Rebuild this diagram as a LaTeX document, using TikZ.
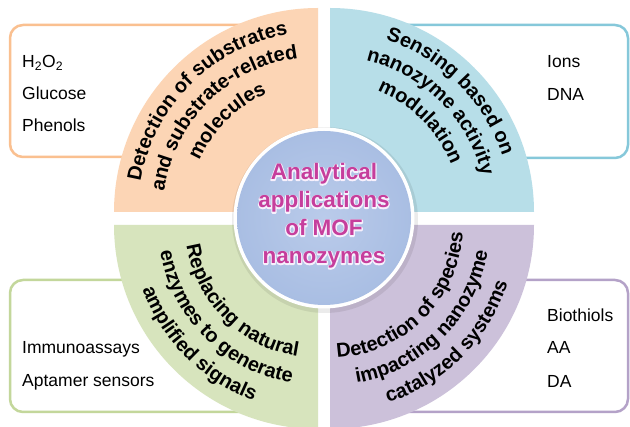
\documentclass[tikz,border=0pt]{standalone}
\usepackage{fontspec}
\setmainfont{Liberation Sans}
\usetikzlibrary{decorations.text}
\definecolor{orfill}{HTML}{FCD5B5}
\definecolor{bufill}{HTML}{B7DEE8}
\definecolor{grfill}{HTML}{D7E4BD}
\definecolor{pufill}{HTML}{CCC1DA}
\definecolor{orline}{HTML}{FAC090}
\definecolor{buline}{HTML}{86C8DA}
\definecolor{grline}{HTML}{C3D79B}
\definecolor{puline}{HTML}{B4A2C8}
\definecolor{cirin}{HTML}{BACBEA}
\definecolor{cirout}{HTML}{A9BEE3}
\definecolor{magtext}{HTML}{C63E9C}
\newcommand{\arcfont}{\fontsize{20}{24}\selectfont\bfseries}
\newcommand{\halotext}[1]{\rlap{\special{pdf:literal direct 0.97 0.94 0.99 RG 2.2 w 1 j 1 Tr}#1\special{pdf:literal direct 0 Tr}}#1}
\begin{document}
\begin{tikzpicture}[x=1pt,y=1pt,
  listbox/.style={line width=2.5pt, rounded corners=13pt},
  item/.style={anchor=base west, inner sep=0pt, font=\fontsize{17.5}{20}\selectfont},
  arctext/.style={decorate, decoration={text along path, text align=center, text={|\arcfont|#1}}},
  centertext/.style={anchor=base, inner sep=0pt, text=magtext, font=\fontsize{22.5}{28}\selectfont\bfseries},
]
\useasboundingbox (0,0) rectangle (630,-427);
\clip (0,0) rectangle (630,-427);
\fill[white] (0,0) rectangle (630,-427);

% list boxes
\draw[listbox, draw=orline] (10,-25) rectangle (300,-157);
\draw[listbox, draw=buline] (348,-25) rectangle (628,-158);
\draw[listbox, draw=grline] (10,-280) rectangle (300,-412);
\draw[listbox, draw=puline] (348,-280) rectangle (628,-412);

% quadrant corners
\coordinate (oc) at (318,-212);
\coordinate (bc) at (330,-212);
\coordinate (gc) at (318,-225);
\coordinate (pc) at (330,-225);

% quadrants
\fill[orfill] (oc) -- ++(-204,0) arc (180:90:204) -- cycle;
\fill[bufill] (bc) -- ++(0,204) arc (90:0:204) -- cycle;
\fill[grfill] (gc) -- ++(-204,0) arc (180:270:204) -- cycle;
\fill[pufill] (pc) -- ++(0,-204) arc (270:360:204) -- cycle;

% list items
\node[item] (h2o2) at (22,-68) {H\textsubscript{2}O\textsubscript{2}};
\node[item] (glucose) at (22,-100) {Glucose};
\node[item] (phenols) at (22,-132) {Phenols};
\node[item] (ions) at (547,-68) {Ions};
\node[item] (dna) at (547,-101) {DNA};
\node[item] (immuno) at (22,-354) {Immunoassays};
\node[item] (aptamer) at (22,-387) {Aptamer sensors};
\node[item] (biothiols) at (547,-322) {Biothiols};
\node[item] (aa) at (547,-354) {AA};
\node[item] (da) at (547,-388) {DA};

% curved texts
\path[arctext={Detection of substrates}] ([shift={(180:180)}]oc) arc (180:90:180);
\path[arctext={and substrate-related}] ([shift={(180:155)}]oc) arc (180:90:155);
\path[arctext={molecules}] ([shift={(180:129)}]oc) arc (180:90:129);

\path[arctext={Sensing based on}] ([shift={(90:181)}]bc) arc (90:0:181);
\path[arctext={nanozyme activity}] ([shift={(90:156)}]bc) arc (90:0:156);
\path[arctext={modulation}] ([shift={(90:130)}]bc) arc (90:0:130);

\path[arctext={Replacing natural}] ([shift={(180:133)}]gc) arc (180:270:133);
\path[arctext={enzymes to generate}] ([shift={(180:160)}]gc) arc (180:270:160);
\path[arctext={amplified signals}] ([shift={(180:187)}]gc) arc (180:270:187);

\path[arctext={Detection of species}] ([shift={(270:133)}]pc) arc (270:360:133);
\path[arctext={impacting nanozyme}] ([shift={(270:160)}]pc) arc (270:360:160);
\path[arctext={catalyzed systems}] ([shift={(270:187)}]pc) arc (270:360:187);

% centre circle
\coordinate (cc) at (324,-218);
\fill[black, opacity=0.08] ([shift={(1,-2)}]cc) circle (93);
\fill[white] (cc) circle (90.5);
\shade[inner color=cirin, outer color=cirout] (cc) circle (87);

\node[centertext] (t1) at (324,-180) {\halotext{Analytical}};
\node[centertext] (t2) at (324,-208) {\halotext{applications}};
\node[centertext] (t3) at (324,-236) {\halotext{of MOF}};
\node[centertext] (t4) at (324,-264) {\halotext{nanozymes}};
\end{tikzpicture}
\end{document}
